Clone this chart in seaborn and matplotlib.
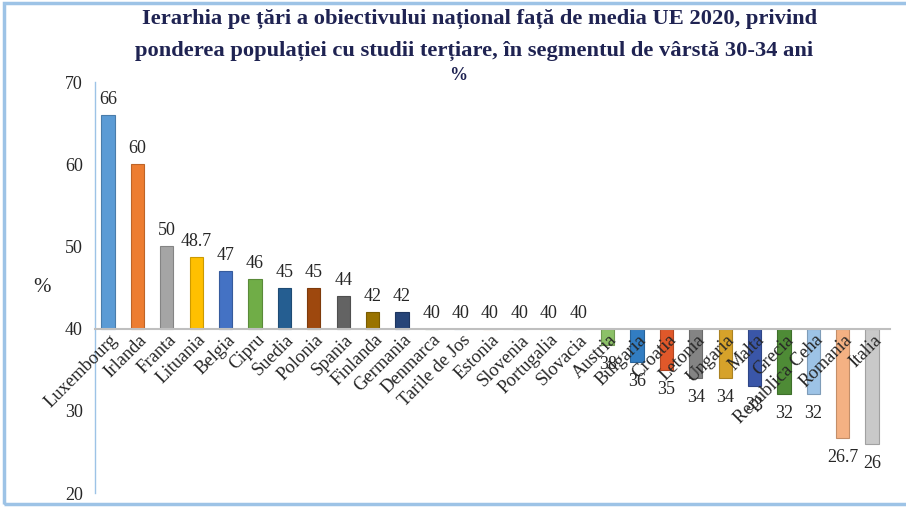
import numpy as np
import pandas as pd
import matplotlib.pyplot as plt
import matplotlib
import seaborn as sns
from matplotlib.transforms import ScaledTranslation
from matplotlib.patches import Rectangle
from matplotlib.colors import to_rgb

# date: tinta nationala (%) pe tari, fata de media UE 2020 (40)
tari = ['Luxembourg', 'Irlanda', 'Franta', 'Lituania', 'Belgia', 'Cipru', 'Suedia',
        'Polonia', 'Spania', 'Finlanda', 'Germania', 'Denmarca', 'Tarile de Jos',
        'Estonia', 'Slovenia', 'Portugalia', 'Slovacia', 'Austria', 'Bulgaria',
        'Croatia', 'Letonia', 'Ungaria', 'Malta', 'Grecia', 'Republica Ceha',
        'Romania', 'Italia']
valori = [66, 60, 50, 48.7, 47, 46, 45, 45, 44, 42, 42, 40, 40, 40, 40, 40, 40,
          38, 36, 35, 34, 34, 33, 32, 32, 26.7, 26]
culori = ['#5B9BD5', '#ED7D31', '#A5A5A5', '#FFC000', '#4472C4', '#70AD47', '#255E91',
          '#9E480E', '#636363', '#997300', '#264478', '#43682B', '#7CAFDD', '#F1975A',
          '#B7B7B7', '#FFCD33', '#698ED0', '#8CC168', '#327DC2', '#E0582A', '#848484',
          '#D6A22A', '#3A56A8', '#4E8B36', '#9DC3E6', '#F4B183', '#C9C9C9']
media_ue = 40

sns.set_style('white')
plt.rcParams['font.family'] = ['Liberation Serif', 'DejaVu Serif']

data = pd.DataFrame({'tara': tari, 'dif': [v - media_ue for v in valori]})

fig = plt.figure(figsize=(9.06, 5.08), dpi=100)
ax = fig.add_axes([0.105, 0.0295, 0.877, 0.809])
sns.barplot(data=data, x='tara', y='dif', hue='tara', palette=culori, legend=False,
            width=0.45, saturation=1, ax=ax)

# contur putin mai inchis la bare
bare = sorted(ax.patches, key=lambda p: p.get_x())
for p, c in zip(bare, culori):
    p.set_edgecolor(tuple(np.array(to_rgb(c)) * 0.8))
    p.set_linewidth(0.8)

ax.set_xlim(-0.44, 26.6)
ax.set_ylim(-20, 30)
ax.set_yticks(range(-20, 31, 10))
ax.yaxis.set_major_formatter(matplotlib.ticker.FuncFormatter(lambda v, pos: f'{v + media_ue:.0f}'))
ax.tick_params(axis='y', length=0, pad=9, labelsize=13, labelcolor='#262626')
ax.tick_params(axis='x', length=0, pad=2, labelsize=13.3, labelcolor='#262626')
# etichetele tarilor peste bare
ax.set_axisbelow(False)
ax.xaxis.set_zorder(4)

ax.spines['top'].set_visible(False)
ax.spines['right'].set_visible(False)
ax.spines['bottom'].set_position(('data', 0))
ax.spines['bottom'].set_color('#BFBFBF')
ax.spines['bottom'].set_linewidth(1.5)
ax.spines['left'].set_color('#9DC3E6')
ax.spines['left'].set_linewidth(1)

ax.set_xlabel('')
ax.set_ylabel('%', rotation=0, fontsize=15, color='#262626', ha='center', va='center')
ax.yaxis.set_label_coords(-0.067, 0.5)

dx = ScaledTranslation(0.01, 0, fig.dpi_scale_trans)
for lbl in ax.get_xticklabels():
    lbl.set_rotation(45)
    lbl.set_ha('right')
    lbl.set_rotation_mode('anchor')
    lbl.set_transform(lbl.get_transform() + dx)

# etichete valori
for i, v in enumerate(valori):
    d = v - media_ue
    if d >= 0:
        ax.annotate(f'{v:g}', xy=(i, d), xytext=(0, 5), textcoords='offset points',
                    ha='center', va='bottom', fontsize=13, color='#262626')
    else:
        ax.annotate(f'{v:g}', xy=(i, d), xytext=(0, -8), textcoords='offset points',
                    ha='center', va='top', fontsize=13, color='#262626')

titlu1 = 'Ierarhia pe țări a obiectivului național față de media UE 2020, privind'
titlu2 = 'ponderea populației cu studii terțiare, în segmentul de vârstă 30-34 ani'
fig.text(0.529, 0.962, titlu1, ha='center', va='center', fontsize=16.2,
         fontweight='bold', color='#1F2352')
fig.text(0.523, 0.899, titlu2, ha='center', va='center', fontsize=16.2,
         fontweight='bold', color='#1F2352')
fig.text(0.506, 0.851, '%', ha='center', va='center', fontsize=13,
         fontweight='bold', color='#1F2352')

fig.add_artist(Rectangle((0.0045, 0.008), 1.2, 0.986, transform=fig.transFigure,
                         fill=False, edgecolor='#9DC3E6', linewidth=2.5))

plt.savefig('out.png', dpi=100)
